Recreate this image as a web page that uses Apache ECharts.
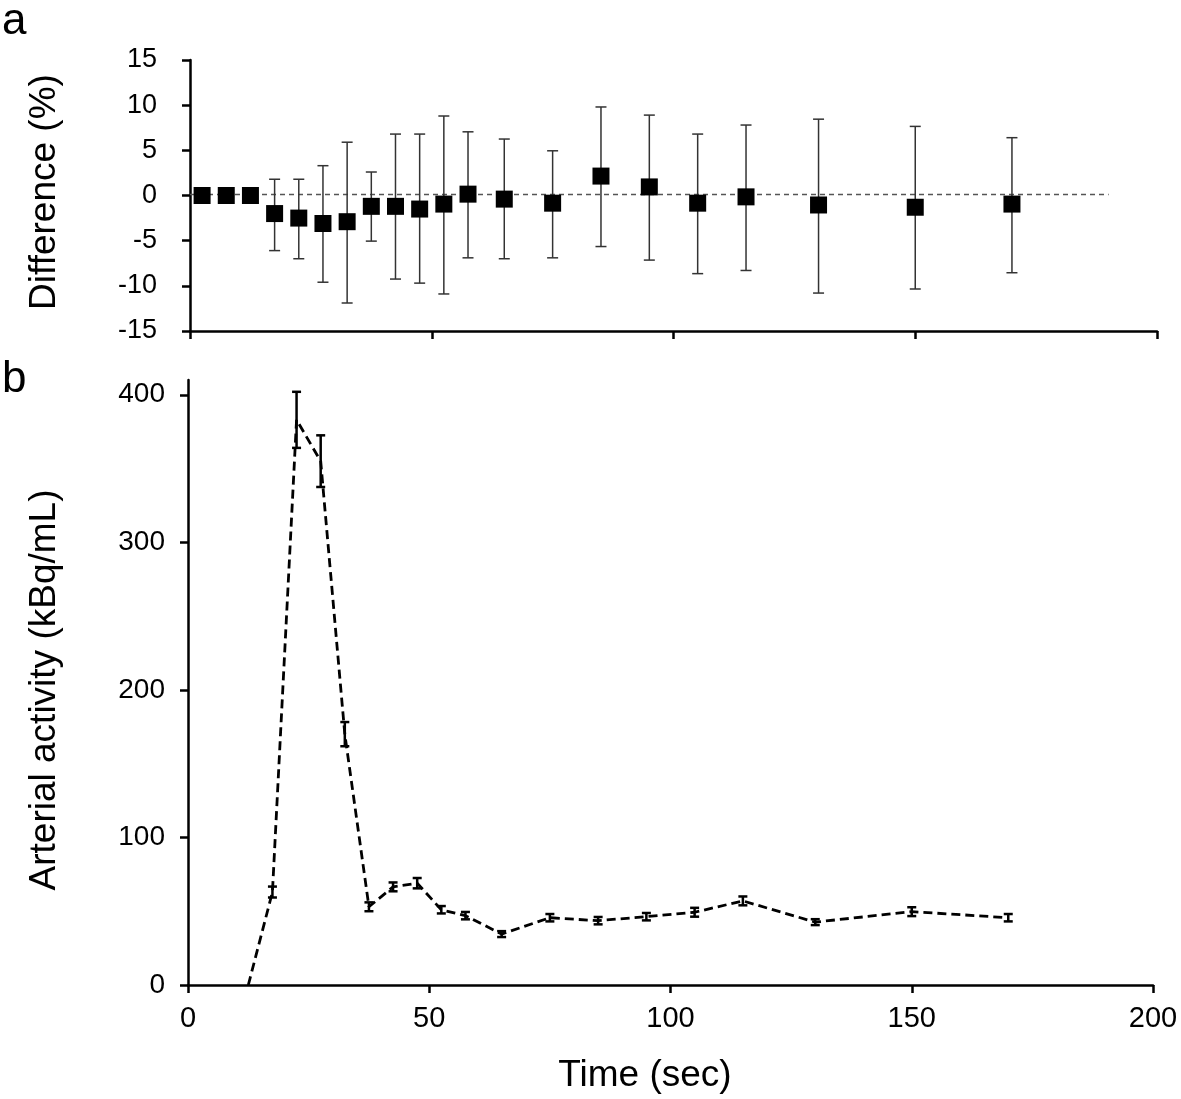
<!DOCTYPE html>
<html>
<head>
<meta charset="utf-8">
<script src="https://cdn.jsdelivr.net/npm/echarts@6/dist/echarts.min.js"></script>
<style>
html,body{margin:0;padding:0;background:#fff;}
#c{width:1181px;height:1099px;}
</style>
</head>
<body>
<div id="c"></div>
<script>
// ---- Panel a: difference (%) ----
const diffTime = [2.5, 7.5, 12.5, 17.5, 22.5, 27.5, 32.5, 37.5, 42.5, 47.5, 52.5, 57.5, 65, 75, 85, 95, 105, 115, 130, 150, 170];
const diffMean = [0, 0, 0, -2.0, -2.5, -3.1, -2.9, -1.2, -1.2, -1.5, -0.95, 0.15, -0.4, -0.85, 2.15, 0.95, -0.85, -0.15, -1.05, -1.3, -0.95];
const diffUpper = [null, null, null, 1.8, 1.8, 3.3, 5.9, 2.6, 6.8, 6.8, 8.8, 7.05, 6.25, 4.95, 9.8, 8.9, 6.8, 7.8, 8.45, 7.65, 6.4];
const diffLower = [null, null, null, -6.1, -7.0, -9.6, -11.9, -5.05, -9.25, -9.7, -10.9, -6.9, -7.0, -6.9, -5.65, -7.15, -8.65, -8.3, -10.8, -10.35, -8.55];
const zeroLineX = [0, 190];
const zeroLineY = [0.1, 0.1];

// ---- Panel b: arterial activity (kBq/mL) ----
const actTime = [12.5, 17.5, 22.5, 27.5, 32.5, 37.5, 42.5, 47.5, 52.5, 57.5, 65, 75, 85, 95, 105, 115, 130, 150, 170];
const actMean = [0, 63, 383, 355, 170, 53, 66.5, 69, 51, 47, 34.5, 45.6, 43.6, 46.3, 49.3, 57, 42.6, 49.7, 45.6];
const actErr = [0, 3.7, 19, 17.5, 8.2, 3, 3, 3.5, 2.5, 2.5, 2, 2.5, 2.5, 2.5, 3, 3, 2, 3, 2.5];

const xTicks = [0, 50, 100, 150, 200];
const diffTicks = [-15, -10, -5, 0, 5, 10, 15];
const actTicks = [0, 100, 200, 300, 400];

const FONT = '"Liberation Sans", Arial, sans-serif';

const diffPoints = diffTime.map((t, i) => [t, diffMean[i]]);
const diffBars = diffTime.map((t, i) => [t, diffLower[i], diffUpper[i]]).filter(d => d[1] !== null);
const actPoints = actTime.map((t, i) => [t, actMean[i]]);
const actBars = actTime.map((t, i) => [t, actMean[i] - actErr[i], actMean[i] + actErr[i]]).filter((d, i) => actErr[i] > 0);
const zeroLine = zeroLineX.map((x, i) => [x, zeroLineY[i]]);

function errRender(capW, lw, color) {
  return function (params, api) {
    const x = api.value(0), lo = api.value(1), hi = api.value(2);
    const p1 = api.coord([x, hi]);
    const p2 = api.coord([x, lo]);
    const st = { stroke: color, lineWidth: lw };
    return {
      type: 'group',
      children: [
        { type: 'line', shape: { x1: p1[0], y1: p1[1], x2: p2[0], y2: p2[1] }, style: st },
        { type: 'line', shape: { x1: p1[0] - capW / 2, y1: p1[1], x2: p1[0] + capW / 2, y2: p1[1] }, style: st },
        { type: 'line', shape: { x1: p2[0] - capW / 2, y1: p2[1], x2: p2[0] + capW / 2, y2: p2[1] }, style: st }
      ]
    };
  };
}

const axisLineStyle = { show: true, onZero: false, lineStyle: { color: '#000', width: 2.5 } };
const tickStyle = { show: true, inside: false, length: 8, lineStyle: { color: '#000', width: 2.5 } };

const chart = echarts.init(document.getElementById('c'), null, { renderer: 'canvas' });
chart.setOption({
  animation: false,
  backgroundColor: '#fff',
  textStyle: { fontFamily: FONT },
  grid: [
    { left: 190, top: 60, width: 967, height: 271, containLabel: false },
    { left: 188, top: 380, width: 965, height: 605, containLabel: false }
  ],
  xAxis: [
    {
      gridIndex: 0, type: 'value', min: 0, max: 200, interval: 50,
      axisLine: axisLineStyle, axisTick: tickStyle,
      axisLabel: { show: false }, splitLine: { show: false }
    },
    {
      gridIndex: 1, type: 'value', min: 0, max: 200, interval: 50,
      axisLine: axisLineStyle, axisTick: tickStyle,
      axisLabel: { show: true, color: '#000', fontSize: 29, fontFamily: FONT, margin: 19,
        customValues: xTicks },
      splitLine: { show: false }
    }
  ],
  yAxis: [
    {
      gridIndex: 0, type: 'value', min: -15, max: 15, interval: 5,
      axisLine: axisLineStyle, axisTick: tickStyle,
      axisLabel: { show: true, color: '#000', fontSize: 27, fontFamily: FONT, margin: 33,
        customValues: diffTicks },
      splitLine: { show: false }
    },
    {
      gridIndex: 1, type: 'value', min: 0, max: 410,
      axisLine: axisLineStyle,
      axisTick: Object.assign({}, tickStyle, { customValues: actTicks }),
      axisLabel: { show: true, color: '#000', fontSize: 28, fontFamily: FONT, margin: 23,
        customValues: actTicks },
      splitLine: { show: false }
    }
  ],
  graphic: [
    { type: 'text', left: 2, top: 0, style: { text: 'a', font: '44px ' + FONT, fill: '#000' } },
    { type: 'text', left: 2, top: 358, style: { text: 'b', font: '44px ' + FONT, fill: '#000' } },
    { type: 'text', x: 45, y: 192, rotation: Math.PI / 2,
      style: { text: 'Difference (%)', font: '37px ' + FONT, fill: '#000', align: 'center', verticalAlign: 'middle' } },
    { type: 'text', x: 45, y: 690, rotation: Math.PI / 2,
      style: { text: 'Arterial activity (kBq/mL)', font: '37px ' + FONT, fill: '#000', align: 'center', verticalAlign: 'middle' } },
    { type: 'text', x: 645, y: 1076,
      style: { text: 'Time (sec)', font: '37px ' + FONT, fill: '#000', align: 'center', verticalAlign: 'middle' } }
  ],
  series: [
    {
      type: 'line', xAxisIndex: 0, yAxisIndex: 0, data: zeroLine, symbol: 'none',
      lineStyle: { color: '#555', width: 1.5, type: [5, 4] }, z: 1
    },
    {
      type: 'custom', xAxisIndex: 0, yAxisIndex: 0, data: diffBars,
      renderItem: errRender(11, 1.5, '#333'), z: 2
    },
    {
      type: 'scatter', xAxisIndex: 0, yAxisIndex: 0, data: diffPoints,
      symbol: 'rect', symbolSize: 17, itemStyle: { color: '#000', opacity: 1 }, z: 3
    },
    {
      type: 'line', xAxisIndex: 1, yAxisIndex: 1, data: actPoints, symbol: 'none',
      lineStyle: { color: '#000', width: 2.8, type: [9, 5] }, z: 2
    },
    {
      type: 'custom', xAxisIndex: 1, yAxisIndex: 1, data: actBars,
      renderItem: errRender(9, 2.5, '#000'), z: 3
    }
  ]
});
</script>
</body>
</html>
